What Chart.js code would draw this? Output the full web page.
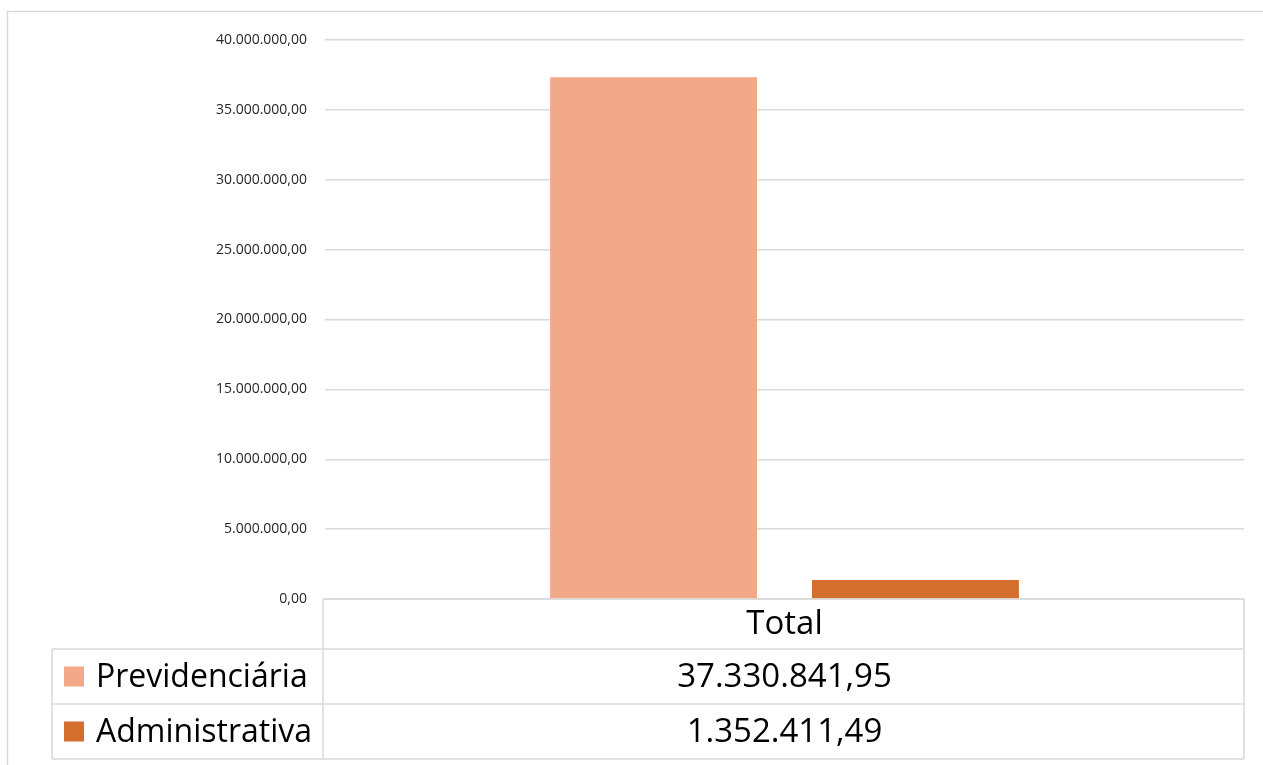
<!DOCTYPE html>
<html lang="pt">
<head>
    <meta charset="UTF-8">
    <title>Previdenciária x Administrativa</title>
    <script src="https://cdn.jsdelivr.net/npm/chart.js"></script>
    <style>
        body { margin: 0; background: #fff; }
        canvas { display: block; }
    </style>
</head>
<body>
    <canvas id="chart" width="1263" height="765"></canvas>

    <script>
        // data
        const categories = ['Total'];
        const seriesNames = ['Previdenciária', 'Administrativa'];
        const previdenciaria = [37330841.95];
        const administrativa = [1352411.49];
        const yTicks = [0, 5000000, 10000000, 15000000, 20000000, 25000000, 30000000, 35000000, 40000000];

        const colors = ['#F1A98A', '#D46E2C'];
        const gridColor = '#D9D9D9';

        // 37330841.95 -> "37.330.841,95"
        function fmt(v) {
            const parts = v.toFixed(2).split('.');
            const int = parts[0].replace(/\B(?=(\d{3})+(?!\d))/g, '.');
            return int + ',' + parts[1];
        }

        // Excel style frame + data table under the plot
        const dataTable = {
            id: 'dataTable',
            afterDraw(chart) {
                const ctx = chart.ctx;
                const area = chart.chartArea;
                const xs = chart.scales.x;
                const L = area.left - 2, R = area.right;
                const labelL = 52;
                const rows = [area.bottom, area.bottom + 50, area.bottom + 105, area.bottom + 160];

                ctx.save();
                ctx.strokeStyle = gridColor;
                ctx.lineWidth = 1.5;
                // outer chart frame
                ctx.strokeRect(7.5, 11.5, 1400, 900);

                ctx.beginPath();
                ctx.moveTo(L, rows[0]); ctx.lineTo(R, rows[0]);
                for (let i = 1; i < rows.length; i++) {
                    ctx.moveTo(labelL, rows[i]); ctx.lineTo(R, rows[i]);
                }
                ctx.moveTo(L, rows[0]); ctx.lineTo(L, rows[3]);
                ctx.moveTo(R, rows[0]); ctx.lineTo(R, rows[3]);
                ctx.moveTo(labelL, rows[1]); ctx.lineTo(labelL, rows[3]);
                ctx.stroke();

                ctx.fillStyle = '#000';
                ctx.textBaseline = 'middle';
                ctx.textAlign = 'center';
                ctx.font = '33px "Open Sans"';
                categories.forEach((c, i) => {
                    const cx = xs.getPixelForValue(i);
                    ctx.fillText(c, cx, (rows[0] + rows[1]) / 2 + 1);
                    chart.data.datasets.forEach((ds, j) => {
                        ctx.fillText(fmt(ds.data[i]), cx, (rows[j + 1] + rows[j + 2]) / 2 + 1);
                    });
                });

                ctx.textAlign = 'left';
                ctx.font = '32px "Open Sans"';
                chart.data.datasets.forEach((ds, j) => {
                    const cy = (rows[j + 1] + rows[j + 2]) / 2;
                    ctx.fillStyle = ds.backgroundColor;
                    ctx.fillRect(64, cy - 10, 20, 20);
                    ctx.fillStyle = '#000';
                    ctx.fillText(ds.label, 96, cy + 1);
                });
                ctx.restore();
            }
        };

        new Chart(document.getElementById('chart'), {
            type: 'bar',
            data: {
                labels: categories,
                datasets: [
                    { label: seriesNames[0], data: previdenciaria, backgroundColor: colors[0] },
                    { label: seriesNames[1], data: administrativa, backgroundColor: colors[1] }
                ]
            },
            options: {
                responsive: false,
                animation: false,
                categoryPercentage: 0.57,
                barPercentage: 0.79,
                layout: { padding: { top: 40, right: 19, bottom: 166, left: 0 } },
                plugins: {
                    legend: { display: false },
                    tooltip: { enabled: false }
                },
                scales: {
                    x: { display: false },
                    y: {
                        min: 0,
                        max: 40000000,
                        afterBuildTicks(scale) {
                            scale.ticks = yTicks.map(v => ({ value: v }));
                        },
                        afterFit(scale) { scale.width = 325; },
                        border: { display: false },
                        grid: { color: gridColor, lineWidth: 1.5, drawTicks: false },
                        ticks: {
                            padding: 18,
                            color: '#262626',
                            font: { family: 'Open Sans', size: 14 },
                            callback: v => fmt(v)
                        }
                    }
                }
            },
            plugins: [dataTable]
        });
    </script>
</body>
</html>
